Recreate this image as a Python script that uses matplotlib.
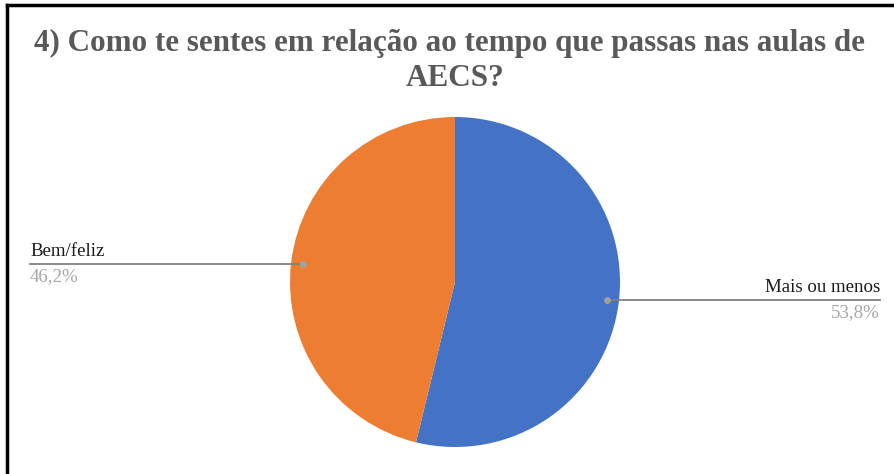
import numpy as np
import matplotlib
matplotlib.use("Agg")
import matplotlib.pyplot as plt
from matplotlib.lines import Line2D

title_lines = ["4) Como te sentes em relação ao tempo que passas nas aulas de", "AECS?"]
labels = ["Mais ou menos", "Bem/feliz"]
values = [53.8, 46.2]
pct_labels = ["53,8%", "46,2%"]
colors = ["#4472C4", "#ED7D31"]

W, H = 894, 474
fig = plt.figure(figsize=(W / 100, H / 100), dpi=100)
fig.patch.set_facecolor("white")

# pie area (pixels from top-left): centre (455, 282), radius 165
cx, cy, r = 455, 282, 165
ax = fig.add_axes([(cx - r) / W, (H - cy - r) / H, 2 * r / W, 2 * r / H])
wedges, _ = ax.pie(values, colors=colors, startangle=90, counterclock=False,
                   radius=1.0, wedgeprops=dict(linewidth=0))
ax.set_xlim(-1, 1)
ax.set_ylim(-1, 1)
ax.set_aspect("equal")
ax.axis("off")

for line, (x, y) in zip(title_lines, [(449, 51), (455, 86)]):
    fig.text(x / W, 1 - y / H, line, ha="center", va="baseline",
             family="Liberation Serif", fontweight="bold", fontsize=22.4,
             color="#595959")

# leader lines with labels
text_x = {"Mais ou menos": 880, "Bem/feliz": 30}
fig.canvas.draw()
for w, lab, pct in zip(wedges, labels, pct_labels):
    ang = np.deg2rad((w.theta1 + w.theta2) / 2)
    px, py = ax.transData.transform((0.93 * np.cos(ang), 0.93 * np.sin(ang)))
    tx = text_x[lab]
    fig.add_artist(Line2D([px, tx], [py, py], transform=None,
                          color="#808080", linewidth=1.3))
    fig.add_artist(Line2D([px], [py], transform=None, marker="o",
                          markersize=4, color="#a0a0a0", linestyle="none"))
    ha = "right" if tx > px else "left"
    fig.text(tx, py + 4, lab, transform=None, ha=ha, va="bottom",
             family="Liberation Serif", fontsize=13.6, color="#1a1a1a")
    fig.text(tx, py - 4, pct, transform=None, ha=ha, va="top",
             family="Liberation Serif", fontsize=13.6, color="#a6a6a6")

# frame lines (top and left only)
fig.add_artist(Line2D([7 / W, 1], [1 - 4.5 / H, 1 - 4.5 / H], transform=fig.transFigure,
                      color="black", linewidth=2.5))
fig.add_artist(Line2D([7 / W, 7 / W], [0, 1 - 4.5 / H], transform=fig.transFigure,
                      color="black", linewidth=2.5))

fig.savefig("out.png", dpi=100)
